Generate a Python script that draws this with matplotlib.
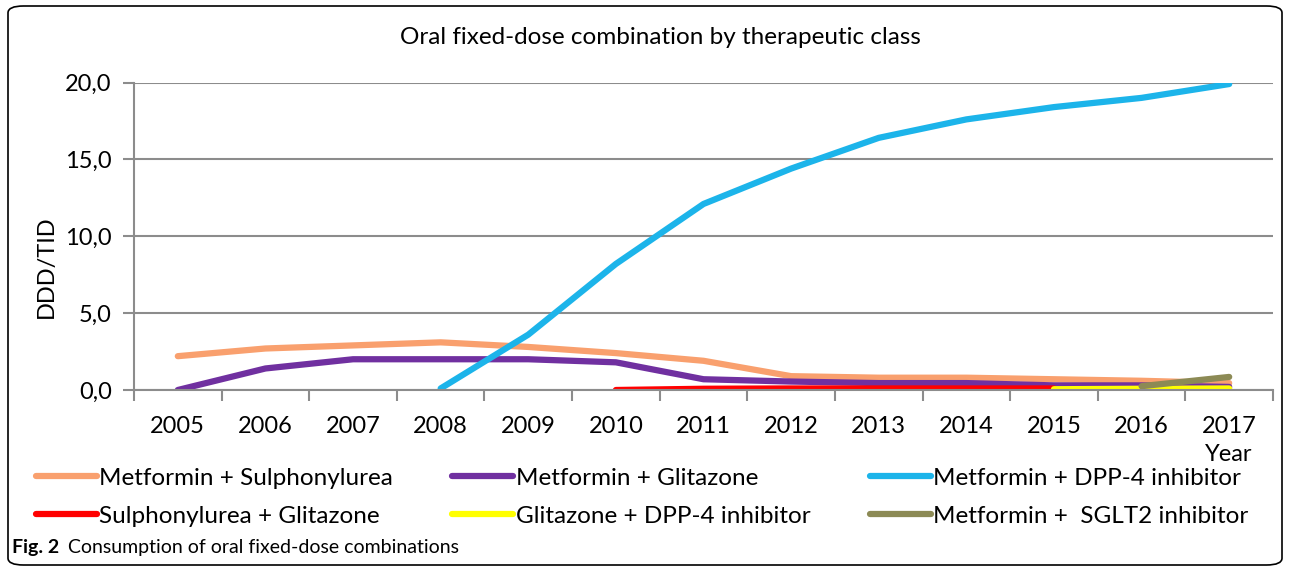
import matplotlib.pyplot as plt
from matplotlib.patches import FancyBboxPatch

plt.rcParams['font.family'] = ['Lato', 'DejaVu Sans']

years = ['2005', '2006', '2007', '2008', '2009', '2010', '2011',
         '2012', '2013', '2014', '2015', '2016', '2017']

# values in DDD/TID, None where the combination was not on the market
met_sulph = [2.2, 2.7, 2.9, 3.1, 2.8, 2.4, 1.9, 0.9, 0.8, 0.8, 0.7, 0.6, 0.45]
met_glit = [0.0, 1.4, 2.0, 2.0, 2.0, 1.8, 0.7, 0.55, 0.45, 0.45, 0.3, 0.3, 0.2]
met_dpp4 = [None, None, None, 0.1, 3.6, 8.2, 12.1, 14.4, 16.4, 17.6, 18.4, 19.0, 19.9]
sulph_glit = [None, None, None, None, None, 0.0, 0.08, 0.1, 0.1, 0.1, 0.1, None, None]
glit_dpp4 = [None, None, None, None, None, None, None, None, None, None, 0.05, 0.08, 0.1]
met_sglt2 = [None, None, None, None, None, None, None, None, None, None, None, 0.25, 0.85]

series = [
    ('Metformin + Sulphonylurea', met_sulph, '#F9A06E'),
    ('Metformin + Glitazone', met_glit, '#7030A0'),
    ('Metformin + DPP-4 inhibitor', met_dpp4, '#1CB4EA'),
    ('Sulphonylurea + Glitazone', sulph_glit, '#FF0000'),
    ('Glitazone + DPP-4 inhibitor', glit_dpp4, '#FFFF00'),
    ('Metformin +  SGLT2 inhibitor', met_sglt2, '#8C8A55'),
]

fig = plt.figure(figsize=(12.9, 5.71), dpi=100)
ax = fig.add_axes([134 / 1290, 181 / 571, 1139 / 1290, 307.5 / 571])

x = list(range(len(years)))
handles = {}
for name, vals, col in series:
    xs = [i for i, v in zip(x, vals) if v is not None]
    ys = [v for v in vals if v is not None]
    ln, = ax.plot(xs, ys, color=col, lw=4.5, solid_capstyle='round', label=name)
    handles[name] = ln

fs = 17
ax.set_xlim(-0.5, len(years) - 0.5)
ax.set_ylim(0, 20)
ax.set_yticks([0, 5, 10, 15, 20])
ax.set_yticklabels(['0,0', '5,0', '10,0', '15,0', '20,0'], fontsize=fs)
ax.set_xticks(x)
ax.set_xticklabels(years, fontsize=fs)
ax.set_xticks([i - 0.5 for i in range(len(years) + 1)], minor=True)
ax.tick_params(axis='x', which='major', length=0, pad=19)
ax.tick_params(axis='x', which='minor', length=8, color='#8c8c8c', width=1.5)
ax.tick_params(axis='y', length=8, color='#8c8c8c', width=1.5, pad=8)
ax.grid(axis='y', color='#8c8c8c', lw=1.5)
ax.set_axisbelow(True)
for s in ['top', 'right']:
    ax.spines[s].set_visible(False)
for s in ['left', 'bottom']:
    ax.spines[s].set_color('#8c8c8c')
    ax.spines[s].set_linewidth(1.5)

ax.set_ylabel('DDD/TID', fontsize=fs)
ax.yaxis.set_label_coords(-0.068, 0.4)
ax.text(12, -0.21, 'Year', transform=ax.get_xaxis_transform(), ha='center',
        va='center', fontsize=fs)

fig.text(0.512, 0.934, 'Oral fixed-dose combination by therapeutic class',
         ha='center', va='center', fontsize=17.5)

order = ['Metformin + Sulphonylurea', 'Sulphonylurea + Glitazone',
         'Metformin + Glitazone', 'Glitazone + DPP-4 inhibitor',
         'Metformin + DPP-4 inhibitor', 'Metformin +  SGLT2 inhibitor']
fig.legend([handles[n] for n in order], order, ncol=3, loc='upper left',
           bbox_to_anchor=(14 / 1290, 1 - 446 / 571), frameon=False,
           fontsize=17.5, handlelength=2.5, handletextpad=0.1,
           columnspacing=2.45, labelspacing=0.7)

fig.text(12 / 1290, 1 - 548 / 571, 'Fig. 2', fontsize=14, fontweight='bold',
         ha='left', va='center')
fig.text(68 / 1290, 1 - 548 / 571, 'Consumption of oral fixed-dose combinations',
         fontsize=14, ha='left', va='center')

frame = FancyBboxPatch((8 / 1290, 6 / 571), 1274 / 1290, 559 / 571,
                       boxstyle='round,pad=0,rounding_size=0.012',
                       transform=fig.transFigure, fill=False, ec='black', lw=1.2)
fig.patches.append(frame)

fig.savefig('out.png', dpi=100)
